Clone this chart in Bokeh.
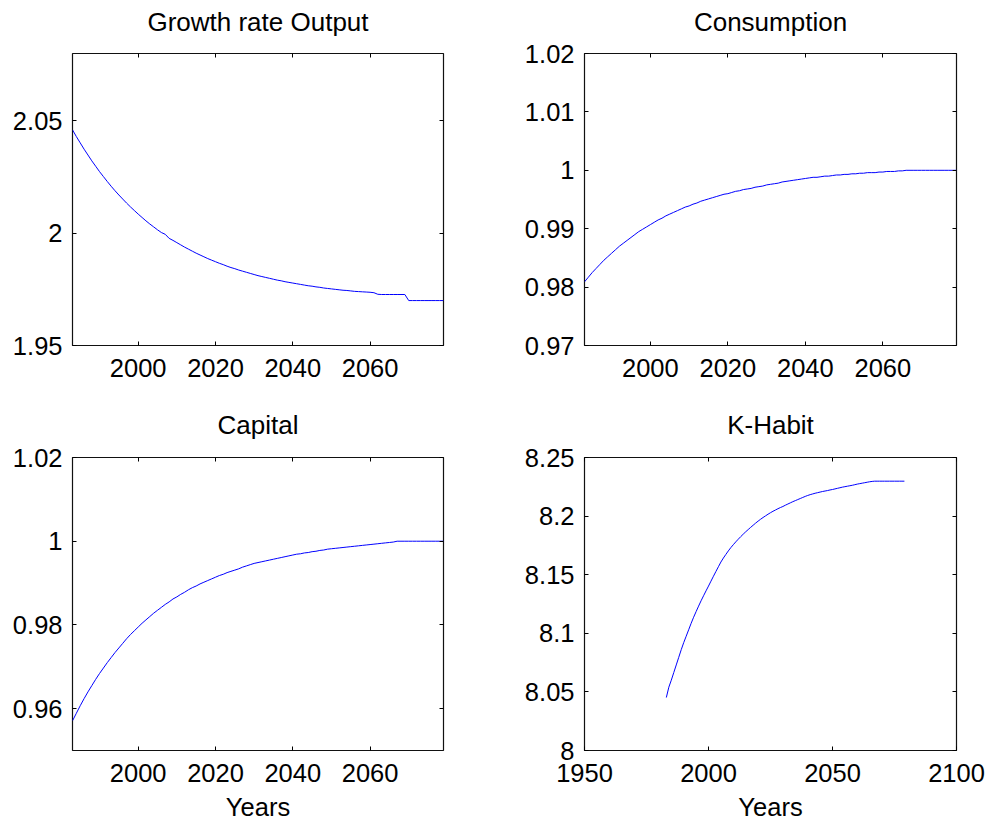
from bokeh.plotting import figure
from bokeh.models import LinearAxis, FixedTicker, Range1d
from bokeh.layouts import column, row
from bokeh.embed import file_html
from bokeh.resources import INLINE

# ---------------- data ----------------
years = list(range(1983, 2080))

growth_output = [
    2.0460, 2.0430, 2.0402, 2.0374, 2.0348, 2.0322, 2.0298, 2.0274, 2.0252, 2.0230,
    2.0209, 2.0189, 2.0170, 2.0152, 2.0134, 2.0117, 2.0101, 2.0085, 2.0070, 2.0055,
    2.0041, 2.0028, 2.0015, 2.0003, 1.9995,
    1.9977, 1.9968, 1.9958, 1.9948, 1.9938, 1.9929, 1.9920, 1.9911, 1.9903, 1.9895,
    1.9887, 1.9880, 1.9873, 1.9866, 1.9860, 1.9853, 1.9847, 1.9842, 1.9836, 1.9831,
    1.9826, 1.9821, 1.9816, 1.9811, 1.9807, 1.9803, 1.9799, 1.9795, 1.9791, 1.9788,
    1.9784, 1.9781, 1.9778, 1.9775, 1.9772, 1.9769, 1.9766, 1.9764, 1.9761, 1.9759,
    1.9756, 1.9754, 1.9752, 1.9750, 1.9748, 1.9746, 1.9745, 1.9743, 1.9741, 1.9740,
    1.9739, 1.9738, 1.9737, 1.9735,
    1.9728,
    1.9727, 1.9727, 1.9727, 1.9727, 1.9727, 1.9727, 1.9727,
    1.9700, 1.9700, 1.9700, 1.9700, 1.9700, 1.9700, 1.9700, 1.9700, 1.9700, 1.9700,
]

consumption = [
    0.9809, 0.9817, 0.9825, 0.9832, 0.9839, 0.9846, 0.9852, 0.9858, 0.9864, 0.9870,
    0.9875, 0.9880, 0.9885, 0.9890, 0.9895, 0.9899, 0.9903, 0.9907, 0.9911, 0.9915,
    0.9918, 0.9922, 0.9925, 0.9928, 0.9931, 0.9934, 0.9937, 0.9939, 0.9942, 0.9944,
    0.9947, 0.9949, 0.9951, 0.9953, 0.9955, 0.9957, 0.9959, 0.9960, 0.9962, 0.9964,
    0.9965, 0.9967, 0.9968, 0.9969, 0.9971, 0.9972, 0.9973,
    0.9975, 0.9976, 0.9977, 0.9978, 0.9980, 0.9981, 0.9982, 0.9983, 0.9984, 0.9985,
    0.9986, 0.9987, 0.9988, 0.9988, 0.9989, 0.9990, 0.9990, 0.9991, 0.9992, 0.9992,
    0.9993, 0.9993, 0.9994, 0.9994, 0.9995, 0.9995, 0.9996, 0.9996, 0.9996, 0.9997,
    0.9997, 0.9998, 0.9998, 0.9998, 0.9999, 0.9999,
    1.0, 1.0, 1.0, 1.0, 1.0, 1.0, 1.0, 1.0, 1.0, 1.0, 1.0, 1.0, 1.0, 1.0,
]

capital = [
    0.9571, 0.9589, 0.9607, 0.9624, 0.9640, 0.9655, 0.9670, 0.9684, 0.9697, 0.9710,
    0.9722, 0.9734, 0.9745, 0.9756, 0.9767, 0.9777, 0.9786, 0.9795, 0.9804, 0.9812,
    0.9820, 0.9828, 0.9835, 0.9842, 0.9849, 0.9855, 0.9862, 0.9867, 0.9873, 0.9878,
    0.9884, 0.9889, 0.9893, 0.9898, 0.9902, 0.9906, 0.9910, 0.9914, 0.9918, 0.9921,
    0.9925,
    0.9928, 0.9931, 0.9934, 0.9938, 0.9941, 0.9944,
    0.9947, 0.9949, 0.9951, 0.9953, 0.9955, 0.9957, 0.9959, 0.9961, 0.9963, 0.9965,
    0.9967, 0.9969, 0.9970, 0.9972, 0.9973, 0.9975, 0.9976, 0.9978, 0.9979, 0.9981,
    0.9982, 0.9983, 0.9984, 0.9985, 0.9986, 0.9987, 0.9988, 0.9989, 0.9990, 0.9991,
    0.9992, 0.9993, 0.9994, 0.9995, 0.9996, 0.9997, 0.9998,
    1.0, 1.0, 1.0, 1.0, 1.0, 1.0, 1.0, 1.0, 1.0, 1.0, 1.0, 1.0, 1.0,
]

k_habit = [
    8.0452, 8.0540, 8.0600, 8.0665, 8.0730, 8.0795, 8.0860, 8.0920, 8.0975, 8.1030,
    8.1085, 8.1137, 8.1185, 8.1232, 8.1277, 8.1320, 8.1362, 8.1403,
    8.1445, 8.1487, 8.1528, 8.1568, 8.1608, 8.1642, 8.1673, 8.1703, 8.1731, 8.1756,
    8.1780, 8.1803, 8.1825, 8.1846, 8.1866, 8.1885, 8.1904, 8.1922, 8.1940, 8.1957,
    8.1973, 8.1988, 8.2002, 8.2016, 8.2029, 8.2041, 8.2052, 8.2063, 8.2073, 8.2082,
    8.2093, 8.2103, 8.2113, 8.2123, 8.2132, 8.2141, 8.2150, 8.2159, 8.2168, 8.2176,
    8.2183, 8.2189, 8.2195, 8.2200, 8.2205, 8.2210, 8.2214, 8.2218, 8.2223, 8.2227,
    8.2232, 8.2237, 8.2242, 8.2247, 8.2251, 8.2255, 8.2259, 8.2263, 8.2268, 8.2273,
    8.2277, 8.2281, 8.2285, 8.2289, 8.2293, 8.2296,
    8.2298, 8.2298, 8.2298, 8.2298, 8.2298, 8.2298, 8.2298, 8.2298, 8.2298, 8.2298,
    8.2298, 8.2298, 8.2298,
]

titles = ["Growth rate Output", "Consumption", "Capital", "K-Habit"]
x_label = "Years"

x_ticks_short = [2000, 2020, 2040, 2060]
x_labels_short = ["2000", "2020", "2040", "2060"]
x_ticks_long = [1950, 2000, 2050, 2100]
x_labels_long = ["1950", "2000", "2050", "2100"]

growth_yticks = [1.95, 2.0, 2.05]
growth_ylabels = ["1.95", "2", "2.05"]
cons_yticks = [0.97, 0.98, 0.99, 1.0, 1.01, 1.02]
cons_ylabels = ["0.97", "0.98", "0.99", "1", "1.01", "1.02"]
cap_yticks = [0.96, 0.98, 1.0, 1.02]
cap_ylabels = ["0.96", "0.98", "1", "1.02"]
kh_yticks = [8.0, 8.05, 8.1, 8.15, 8.2, 8.25]
kh_ylabels = ["8", "8.05", "8.1", "8.15", "8.2", "8.25"]

# ---------------- styling ----------------
FONT = "Liberation Sans"
TICK_SIZE = "25.5px"
TITLE_SIZE = "26px"


def style_axis(ax, ticks, labels, standoff, show_labels=True):
    ax.ticker = FixedTicker(ticks=ticks)
    ax.major_tick_in = 4
    ax.major_tick_out = 0
    ax.minor_tick_out = 0
    ax.minor_tick_in = 0
    ax.major_tick_line_color = "black"
    ax.minor_tick_line_color = None
    ax.axis_line_color = None
    if show_labels:
        ax.major_label_overrides = {t: l for t, l in zip(ticks, labels)}
        ax.major_label_text_font = FONT
        ax.major_label_text_font_size = TICK_SIZE
        ax.major_label_text_color = "black"
        ax.major_label_standoff = standoff
    else:
        ax.major_label_overrides = {t: "" for t in ticks}
        ax.major_label_text_font_size = "0px"
        ax.major_label_standoff = 0


def panel(title, xs, ys, xr, yr, xt, xl, yt, yl, w, h, bl, br, bt, bb,
          title_standoff, xlabel=None):
    p = figure(width=w, height=h, output_backend="svg", toolbar_location=None,
               x_range=Range1d(*xr), y_range=Range1d(*yr),
               min_border_left=bl, min_border_right=br,
               min_border_top=bt, min_border_bottom=bb)
    p.grid.visible = False
    p.outline_line_color = "#111111"
    p.outline_line_width = 1.2
    p.outline_line_alpha = 1
    p.background_fill_color = "white"
    p.border_fill_color = "white"
    bottom_ax = p.xaxis[0]
    left_ax = p.yaxis[0]
    style_axis(bottom_ax, xt, xl, 13)
    style_axis(left_ax, yt, yl, 10)
    if xlabel:
        bottom_ax.axis_label = xlabel
        bottom_ax.axis_label_text_font = FONT
        bottom_ax.axis_label_text_font_size = TICK_SIZE
        bottom_ax.axis_label_text_font_style = "normal"
        bottom_ax.axis_label_text_color = "black"
        bottom_ax.axis_label_text_line_height = 1.0
        bottom_ax.axis_label_standoff = 8
    # top axis: inward ticks, carries the panel title as its label
    top = LinearAxis()
    style_axis(top, xt, xl, 0, show_labels=False)
    top.axis_label = title
    top.axis_label_text_font = FONT
    top.axis_label_text_font_size = TITLE_SIZE
    top.axis_label_text_font_style = "normal"
    top.axis_label_text_color = "black"
    top.axis_label_standoff = title_standoff
    p.add_layout(top, "above")
    right = LinearAxis()
    style_axis(right, yt, yl, 0, show_labels=False)
    p.add_layout(right, "right")
    p.line(xs, ys, line_color="#0000ff", line_width=1)
    return p


p1 = panel(titles[0], years, growth_output, (1983, 2079), (1.95, 2.08),
           x_ticks_short, x_labels_short, growth_yticks, growth_ylabels,
           495, 406, 72, 52, 53, 61, 17)
p2 = panel(titles[1], years, consumption, (1983, 2079), (0.97, 1.02),
           x_ticks_short, x_labels_short, cons_yticks, cons_ylabels,
           495, 406, 89, 34, 53, 61, 17)
p3 = panel(titles[2], years, capital, (1983, 2079), (0.95, 1.02),
           x_ticks_short, x_labels_short, cap_yticks, cap_ylabels,
           495, 421, 72, 52, 51, 77, 18, xlabel=x_label)
p4 = panel(titles[3], years, k_habit, (1950, 2100), (8.0, 8.25),
           x_ticks_long, x_labels_long, kh_yticks, kh_ylabels,
           495, 421, 89, 34, 51, 77, 18, xlabel=x_label)

layout = column(row(p1, p2), row(p3, p4))

open("out.html", "w").write(file_html(layout, INLINE))
